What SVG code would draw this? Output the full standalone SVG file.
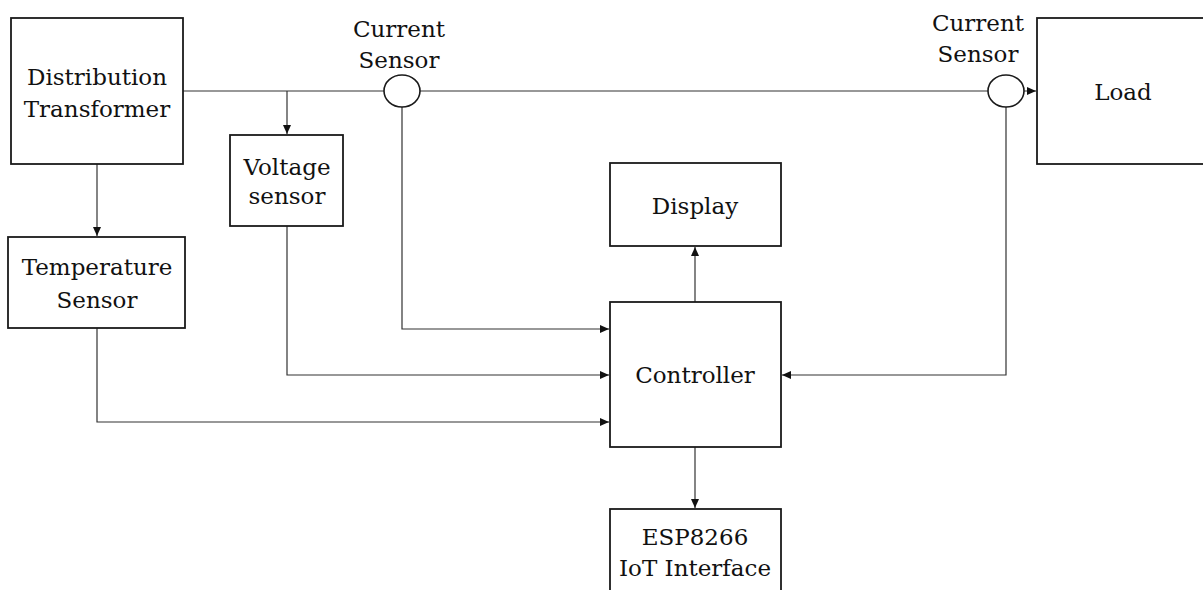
<svg xmlns="http://www.w3.org/2000/svg" width="1203" height="590" viewBox="0 0 1203 590">
  <style>
    .box { fill: #ffffff; stroke: #1a1a1a; stroke-width: 1.8; }
    .lbl { font-family: "DejaVu Serif", "Liberation Serif", serif; font-size: 23px; fill: #111111; text-anchor: middle; }
    .wire { fill: none; stroke: #333333; stroke-width: 1.2; }
    .ct { fill: #ffffff; stroke: #1a1a1a; stroke-width: 1.6; }
  </style>
  <defs>
    <marker id="arrow" markerWidth="10" markerHeight="8" refX="9" refY="4" orient="auto" markerUnits="userSpaceOnUse">
      <path d="M0,0 L9,4 L0,8 Z" fill="#111111"/>
    </marker>
  </defs>
  <rect width="1203" height="590" fill="#ffffff"/>

  <!-- connectors -->
  <g id="connectors">
    <!-- main feeder from transformer to load -->
    <path class="wire" d="M183,91 H1036" marker-end="url(#arrow)"/>
    <!-- tap to voltage sensor -->
    <path class="wire" d="M287,91 V134" marker-end="url(#arrow)"/>
    <!-- transformer to temperature sensor -->
    <path class="wire" d="M97,164 V236" marker-end="url(#arrow)"/>
    <!-- current sensor 1 to controller -->
    <path class="wire" d="M402,107 V329 H609" marker-end="url(#arrow)"/>
    <!-- voltage sensor to controller -->
    <path class="wire" d="M287,226 V375 H609" marker-end="url(#arrow)"/>
    <!-- temperature sensor to controller -->
    <path class="wire" d="M97,328 V422 H609" marker-end="url(#arrow)"/>
    <!-- current sensor 2 to controller -->
    <path class="wire" d="M1006,107 V375 H782" marker-end="url(#arrow)"/>
    <!-- controller to display -->
    <path class="wire" d="M695,302 V247" marker-end="url(#arrow)"/>
    <!-- controller to IoT interface -->
    <path class="wire" d="M695,447 V508" marker-end="url(#arrow)"/>
  </g>

  <g id="transformer">
    <rect class="box" x="11" y="18" width="172" height="146"/>
    <text class="lbl" x="97" y="85">Distribution</text>
    <text class="lbl" x="97" y="117">Transformer</text>
  </g>

  <g id="voltage-sensor">
    <rect class="box" x="230" y="135" width="113" height="91"/>
    <text class="lbl" x="287" y="175">Voltage</text>
    <text class="lbl" x="287" y="204">sensor</text>
  </g>

  <g id="temperature-sensor">
    <rect class="box" x="8" y="237" width="177" height="91"/>
    <text class="lbl" x="97" y="275">Temperature</text>
    <text class="lbl" x="97" y="308">Sensor</text>
  </g>

  <g id="current-sensor-1">
    <ellipse class="ct" cx="402" cy="91" rx="18" ry="16"/>
    <text class="lbl" x="399" y="37">Current</text>
    <text class="lbl" x="399" y="68">Sensor</text>
  </g>

  <g id="current-sensor-2">
    <ellipse class="ct" cx="1006" cy="91" rx="18" ry="16"/>
    <text class="lbl" x="978" y="31">Current</text>
    <text class="lbl" x="978" y="62">Sensor</text>
  </g>

  <g id="load">
    <rect class="box" x="1037" y="18" width="180" height="146"/>
    <text class="lbl" x="1123" y="100">Load</text>
  </g>

  <g id="display">
    <rect class="box" x="610" y="163" width="171" height="83"/>
    <text class="lbl" x="695" y="214">Display</text>
  </g>

  <g id="controller">
    <rect class="box" x="610" y="302" width="171" height="145"/>
    <text class="lbl" x="695" y="383">Controller</text>
  </g>

  <g id="iot-interface">
    <rect class="box" x="610" y="509" width="171" height="100"/>
    <text class="lbl" x="695" y="545">ESP8266</text>
    <text class="lbl" x="695" y="576">IoT Interface</text>
  </g>
</svg>
